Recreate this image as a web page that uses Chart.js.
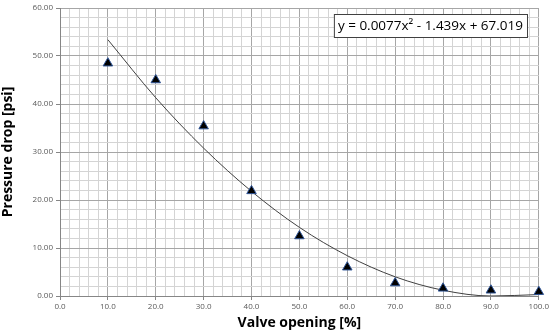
<!DOCTYPE html>
<html>
<head>
<meta charset="utf-8">
<script src="https://cdn.jsdelivr.net/npm/chart.js@4"></script>
<style>
  html, body { margin: 0; padding: 0; background: #fff; }
  #wrap { width: 551px; height: 331px; }
</style>
</head>
<body>
<div id="wrap"><canvas id="chart"></canvas></div>
<script>
// measured points
const valveOpening = [10, 20, 30, 40, 50, 60, 70, 80, 90, 100];
const pressureDrop = [48.5, 45.0, 35.4, 21.9, 12.5, 6.0, 2.7, 1.6, 1.2, 0.9];

// trendline
const trendX = [10, 20, 30, 40, 50, 60, 70, 80, 90, 100];
const trendY = [53.4, 41.3, 30.8, 21.8, 14.3, 8.4, 4.0, 1.2, 0.0, 0.3];

const equationText = "y = 0.0077x\u00b2 - 1.439x + 67.019";

const font = "'Open Sans', sans-serif";

const equationBox = {
  id: "equationBox",
  afterDraw(chart) {
    const ctx = chart.ctx;
    ctx.save();
    ctx.font = "13.5px " + font;
    const w = ctx.measureText(equationText).width;
    const x = 527 - w - 8, y = 14;
    ctx.fillStyle = "#fff";
    ctx.fillRect(x, y, w + 8, 23);
    ctx.strokeStyle = "#404040";
    ctx.lineWidth = 1;
    ctx.strokeRect(x + 0.5, y + 0.5, w + 8, 23);
    ctx.fillStyle = "#000";
    ctx.textBaseline = "middle";
    ctx.fillText(equationText, x + 4, y + 12.5);
    ctx.restore();
  },
};

const gridColor = (ctx) =>
  ctx.tick && ctx.tick.value % 10 === 0 ? "#a6a6a6" : "#d4d4d4";
const tickColor = (ctx) =>
  ctx.tick && ctx.tick.value % 10 === 0 ? "#868686" : "rgba(0,0,0,0)";

new Chart(document.getElementById("chart"), {
  type: "scatter",
  data: {
    datasets: [
      {
        label: "Measured",
        data: valveOpening.map((x, i) => ({ x, y: pressureDrop[i] })),
        pointStyle: "triangle",
        pointRadius: 5.5,
        backgroundColor: "#000",
        borderColor: "#2f5597",
        borderWidth: 1,
        clip: false,
        order: 1,
      },
      {
        label: "Trend",
        type: "line",
        data: trendX.map((x, i) => ({ x, y: trendY[i] })),
        borderColor: "#404040",
        borderWidth: 1,
        pointRadius: 0,
        cubicInterpolationMode: "monotone",
        fill: false,
        order: 2,
      },
    ],
  },
  plugins: [equationBox],
  options: {
    responsive: true,
    maintainAspectRatio: false,
    animation: false,
    layout: { padding: { top: 8, right: 11, left: 0, bottom: 0 } },
    plugins: { legend: { display: false }, tooltip: { enabled: false } },
    scales: {
      x: {
        type: "linear",
        min: 0,
        max: 100,
        afterFit: (s) => { s.height = 35; },
        ticks: {
          stepSize: 2,
          autoSkip: false,
          maxRotation: 0,
          padding: 2,
          color: "#595959",
          font: { family: font, size: 8 },
          callback: (v) => (v % 10 === 0 ? v.toFixed(1) : ""),
        },
        grid: { color: gridColor, tickColor: tickColor, tickLength: 4 },
        border: { color: "#868686" },
        title: {
          display: true,
          text: "Valve opening [%]",
          color: "#000",
          font: { family: font, size: 14, weight: "bold" },
          padding: { top: 0, bottom: 0 },
        },
      },
      y: {
        min: 0,
        max: 60,
        afterFit: (s) => { s.width = 60; },
        ticks: {
          stepSize: 2,
          autoSkip: false,
          padding: 3,
          color: "#595959",
          font: { family: font, size: 8 },
          callback: (v) => (v % 10 === 0 ? v.toFixed(2) : ""),
        },
        grid: { color: gridColor, tickColor: tickColor, tickLength: 4 },
        border: { color: "#868686" },
        title: {
          display: true,
          text: "Pressure drop [psi]",
          color: "#000",
          font: { family: font, size: 14, weight: "bold" },
          padding: { top: 0, bottom: 0 },
        },
      },
    },
  },
});
</script>
</body>
</html>
